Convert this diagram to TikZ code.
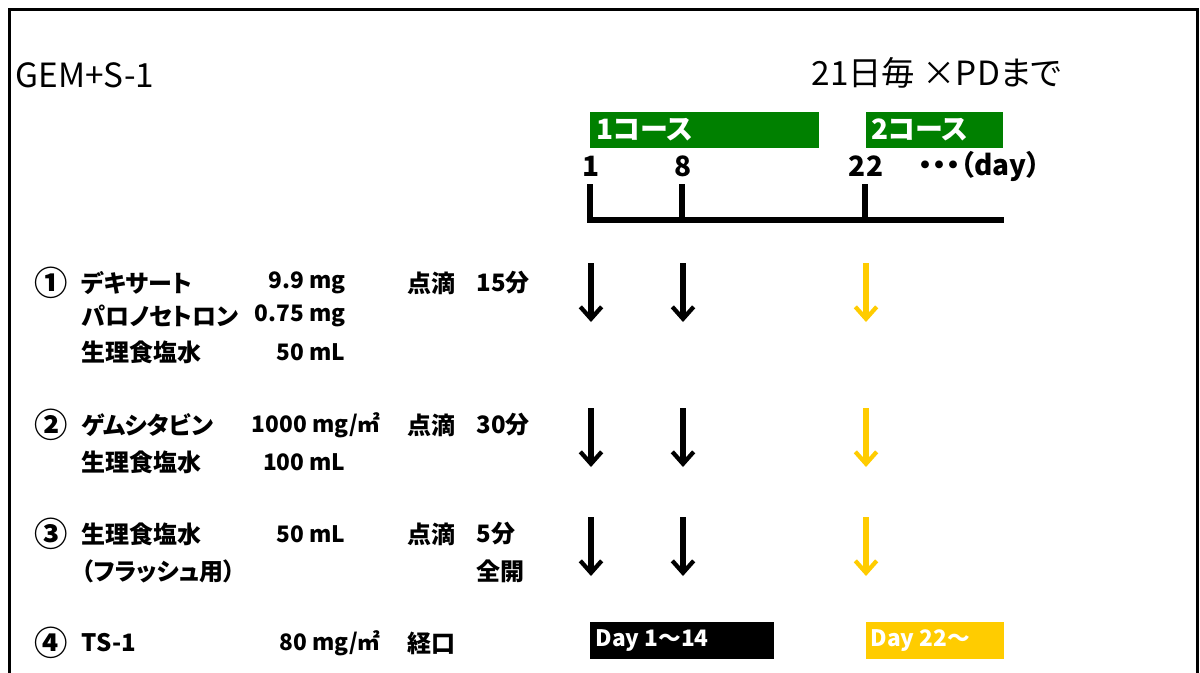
\documentclass[tikz,border=0pt]{standalone}
\usepackage{fontspec}
\setmainfont{Noto Sans CJK JP}[RawFeature=+palt]
\usetikzlibrary{arrows.meta}

\definecolor{courseGreen}{RGB}{0,128,0}
\definecolor{dayYellow}{RGB}{255,204,0}

\tikzset{every picture/.style={line width=0.75pt}}
\tikzset{
  head/.style={anchor=west,inner sep=0pt,font=\fontsize{25}{28}\selectfont},
  drug/.style={anchor=west,inner sep=0pt,font=\fontsize{18}{21}\selectfont\bfseries},
  dose/.style={anchor=east,inner sep=0pt,font=\fontsize{17}{20}\selectfont\bfseries},
  circnum/.style={inner sep=0pt,font=\fontsize{25}{28}\selectfont\bfseries},
  daynum/.style={inner sep=0pt,font=\fontsize{21}{24}\selectfont\bfseries},
  boxlbl/.style={anchor=west,inner sep=0pt,text=white,font=\fontsize{21}{24}\selectfont\bfseries},
  daylbl/.style={anchor=west,inner sep=0pt,text=white,font=\fontsize{17}{20}\selectfont\bfseries},
  drip/.style={-{Straight Barb[length=9pt,width=16pt,line width=3.2pt]},line width=4pt},
}

\begin{document}
\begin{tikzpicture}[x=0.75pt,y=0.75pt,yscale=-1,xscale=1]
\useasboundingbox (0,0) rectangle (1200,672);

%Frame
\draw [line width=2.3pt]  (9.5,700) -- (9.5,9.5) -- (1197.5,9.5) -- (1197.5,700) ;

% Text Node
\node [head] (title) at (15,75) {GEM+S-1};
% Text Node
\node [head] (cycle) at (811,73) {21日毎 ×PDまで};

%Shape: Rectangle [course 1]
\fill [courseGreen]  (590,112) rectangle (819,148) ;
\node [boxlbl] (course1) at (596,130) {1コース};
%Shape: Rectangle [course 2]
\fill [courseGreen]  (866,112) rectangle (1003,148) ;
\node [boxlbl] (course2) at (871,130) {2コース};

% Day numbers
\node [daynum] (d1) at (591,166) {1};
\node [daynum] (d8) at (683,166) {8};
\node [daynum] (d22) at (866,166) {22};
\node [daynum,anchor=west] (dots) at (918,166) {・・・（day）};

%Straight Lines [timeline]
\draw [line width=4.5pt]  (590,184) -- (590,220) -- (1004,220) ;
\draw [line width=4.5pt]  (682,184) -- (682,220) ;
\draw [line width=4.5pt]  (865,184) -- (865,220) ;

% Row 1
\node [circnum] (n1) at (51,283) {①};
\node [drug] (dex) at (81,283) {デキサート};
\node [dose] (dexd) at (346,283) {9.9 mg};
\node [drug] (r1) at (407,283) {点滴};
\node [drug] (t1) at (476,283) {15分};
\node [drug] (palo) at (81,316) {パロノセトロン};
\node [dose] (palod) at (346,316) {0.75 mg};
\node [drug] (ns1) at (81,352) {生理食塩水};
\node [dose] (ns1d) at (346,352) {50 mL};

% Row 2
\node [circnum] (n2) at (51,425) {②};
\node [drug] (gem) at (81,425) {ゲムシタビン};
\node [dose] (gemd) at (381,425) {1000 mg/㎡};
\node [drug] (r2) at (407,425) {点滴};
\node [drug] (t2) at (476,425) {30分};
\node [drug] (ns2) at (81,462) {生理食塩水};
\node [dose] (ns2d) at (346,462) {100 mL};

% Row 3
\node [circnum] (n3) at (51,534) {③};
\node [drug] (ns3) at (81,534) {生理食塩水};
\node [dose] (ns3d) at (346,534) {50 mL};
\node [drug] (r3) at (407,534) {点滴};
\node [drug] (t3) at (476,534) {5分};
\node [drug] (flush) at (81,571) {（フラッシュ用）};
\node [drug] (open) at (476,571) {全開};

% Row 4
\node [circnum] (n4) at (51,643) {④};
\node [drug] (ts) at (81,643) {TS-1};
\node [dose] (tsd) at (381,643) {80 mg/㎡};
\node [drug] (r4) at (407,643) {経口};

% Arrow tops
\coordinate (a11) at (591,263);
\coordinate (a12) at (683,263);
\coordinate (a13) at (866,263);
\coordinate (a21) at (591,408);
\coordinate (a22) at (683,408);
\coordinate (a23) at (866,408);
\coordinate (a31) at (591,517);
\coordinate (a32) at (683,517);
\coordinate (a33) at (866,517);

% Arrows
\draw [drip]  (a11) -- ++(0,59) ;
\draw [drip]  (a12) -- ++(0,59) ;
\draw [drip,dayYellow]  (a13) -- ++(0,59) ;
\draw [drip]  (a21) -- ++(0,59) ;
\draw [drip]  (a22) -- ++(0,59) ;
\draw [drip,dayYellow]  (a23) -- ++(0,59) ;
\draw [drip]  (a31) -- ++(0,59) ;
\draw [drip]  (a32) -- ++(0,59) ;
\draw [drip,dayYellow]  (a33) -- ++(0,59) ;

%Shape: Rectangle [TS-1 days]
\fill [black]  (590,622) rectangle (774,659) ;
\node [daylbl] (ts1) at (595,641) {Day 1～14};
\fill [dayYellow]  (866,622) rectangle (1004,659) ;
\node [daylbl] (ts2) at (870,641) {Day 22～};

\end{tikzpicture}
\end{document}
